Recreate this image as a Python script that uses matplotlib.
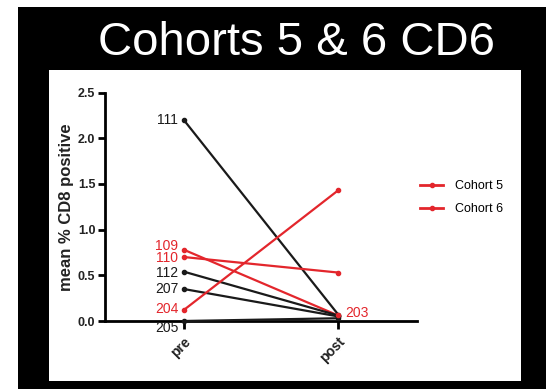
import matplotlib
matplotlib.use("Agg")
import matplotlib.pyplot as plt
from matplotlib.patches import Rectangle
from matplotlib.lines import Line2D
import numpy as np

plt.rcParams["font.family"] = ["Liberation Sans", "DejaVu Sans"]

# data
timepoints = ["pre", "post"]
patients = ["111", "109", "110", "112", "207", "204", "205", "203"]
pre_vals = [2.20, 0.78, 0.70, 0.54, 0.35, 0.12, 0.00, np.nan]
post_vals = [0.07, 0.06, 0.53, 0.06, 0.05, 1.43, 0.03, 0.07]
groups = ["black", "red", "red", "black", "black", "red", "black", "red"]
legend_labels = ["Cohort 5", "Cohort 6"]

red = "#e3262c"
black = "#1a1a1a"
colors = {"red": red, "black": black}

# label nudges (points) so stacked labels don't overlap
nudge = {"111": 0, "109": 3, "110": -1, "112": -1, "207": 0, "204": 1, "205": -5}

fig = plt.figure(figsize=(5.46, 3.89), dpi=100)
fig.patches.append(Rectangle((18 / 546, 0), 1, 382 / 389, transform=fig.transFigure,
                             facecolor="black", edgecolor="none", zorder=-2))
fig.patches.append(Rectangle((49 / 546, 8 / 389), 472 / 546, 311 / 389,
                             transform=fig.transFigure, facecolor="white",
                             edgecolor="none", zorder=-1))
fig.text(297 / 546, 1 - 55 / 389, "Cohorts 5 & 6 CD6", color="white", fontsize=34,
         ha="center", va="baseline")

ax = fig.add_axes([105 / 546, 68 / 389, 312 / 546, 228.5 / 389])
ax.patch.set_visible(False)

x = np.arange(len(timepoints))
for name, a, b, g in zip(patients, pre_vals, post_vals, groups):
    c = colors[g]
    ax.plot(x, [a, b], color=c, lw=1.6, marker="o", ms=3, zorder=3, clip_on=False)
    if not np.isnan(a):
        ax.annotate(name, (x[0], a), xytext=(-4, nudge.get(name, 0)),
                    textcoords="offset points", ha="right", va="center",
                    color=c, fontsize=10)
    else:
        ax.annotate(name, (x[1], b), xytext=(5, 1), textcoords="offset points",
                    ha="left", va="center", color=c, fontsize=10)

ax.set_xlim(-0.51, 1.51)
ax.set_ylim(0, 2.5)
ax.set_yticks([0, 0.5, 1.0, 1.5, 2.0, 2.5])
ax.set_yticklabels(["0.0", "0.5", "1.0", "1.5", "2.0", "2.5"], fontweight="bold",
                   fontsize=9, color="#222")
ax.set_xticks(x)
ax.set_xticklabels(timepoints, rotation=45, ha="right", rotation_mode="anchor",
                   fontweight="bold", fontsize=10, color="#222")
ax.tick_params(axis="both", width=2, length=5, direction="out", pad=2)
ax.tick_params(axis="x", length=6, pad=4)
for s in ["top", "right"]:
    ax.spines[s].set_visible(False)
for s in ["left", "bottom"]:
    ax.spines[s].set_linewidth(2)
ax.set_ylabel("mean % CD8 positive", fontweight="bold", fontsize=12, color="#222")
ax.yaxis.set_label_coords(-0.1, 0.5)

handles = [Line2D([], [], color=red, lw=2, marker="o", ms=3) for _ in legend_labels]
ax.legend(handles, legend_labels, loc="upper left", bbox_to_anchor=(0.975, 0.665),
          frameon=False, fontsize=9, handlelength=1.8, handletextpad=1.0,
          labelspacing=0.85)

fig.savefig("out.png", dpi=100)
